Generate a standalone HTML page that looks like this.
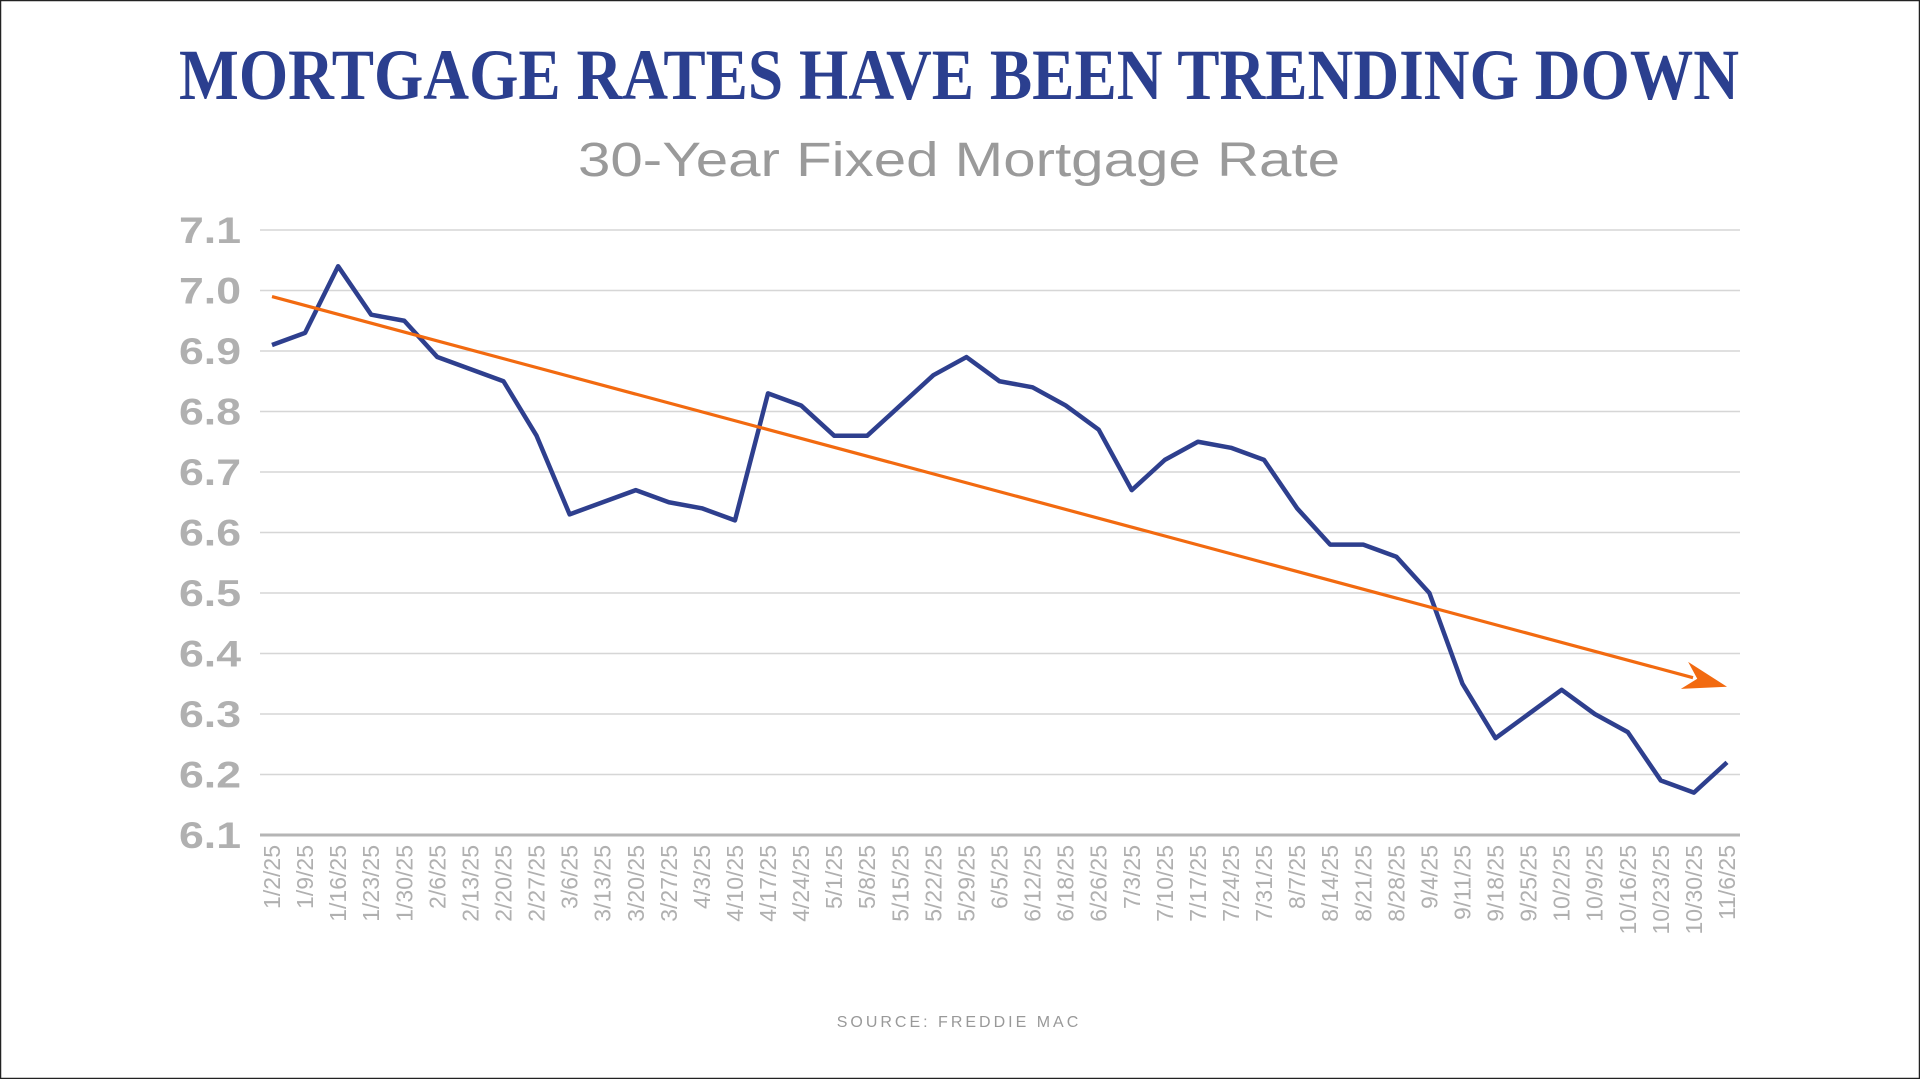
<!DOCTYPE html>
<html><head><meta charset="utf-8"><style>
html,body{margin:0;padding:0;background:#fff}
svg{display:block}
</style></head><body>
<svg id="chart" width="1920" height="1079" viewBox="0 0 1920 1079" xmlns="http://www.w3.org/2000/svg">
<rect x="0.5" y="0.5" width="1919" height="1078" fill="#fff" stroke="#222" stroke-width="1.5"/>
<text x="959" y="99" text-anchor="middle" textLength="1560" lengthAdjust="spacingAndGlyphs" font-family="Liberation Serif, serif" font-weight="bold" font-size="72" fill="#2b3f8f">MORTGAGE RATES HAVE BEEN TRENDING DOWN</text>
<text x="959" y="176" text-anchor="middle" textLength="762" lengthAdjust="spacingAndGlyphs" font-family="Liberation Sans, sans-serif" font-size="48" fill="#9a9a9a">30-Year Fixed Mortgage Rate</text>
<g id="grid"></g><g id="yticks"></g><g id="xticks"></g><g id="series"></g>
<text x="959" y="1027" text-anchor="middle" font-family="Liberation Sans, sans-serif" font-size="16" letter-spacing="3" fill="#999">SOURCE: FREDDIE MAC</text>
</svg>
<script>
const categories=["1/2/25","1/9/25","1/16/25","1/23/25","1/30/25","2/6/25","2/13/25","2/20/25","2/27/25","3/6/25","3/13/25","3/20/25","3/27/25","4/3/25","4/10/25","4/17/25","4/24/25","5/1/25","5/8/25","5/15/25","5/22/25","5/29/25","6/5/25","6/12/25","6/18/25","6/26/25","7/3/25","7/10/25","7/17/25","7/24/25","7/31/25","8/7/25","8/14/25","8/21/25","8/28/25","9/4/25","9/11/25","9/18/25","9/25/25","10/2/25","10/9/25","10/16/25","10/23/25","10/30/25","11/6/25"];
const rates=[6.91,6.93,7.04,6.96,6.95,6.89,6.87,6.85,6.76,6.63,6.65,6.67,6.65,6.64,6.62,6.83,6.81,6.76,6.76,6.81,6.86,6.89,6.85,6.84,6.81,6.77,6.67,6.72,6.75,6.74,6.72,6.64,6.58,6.58,6.56,6.50,6.35,6.26,6.30,6.34,6.30,6.27,6.19,6.17,6.22];
const yTicks=[6.1,6.2,6.3,6.4,6.5,6.6,6.7,6.8,6.9,7.0,7.1];
const yTickLabels=["6.1","6.2","6.3","6.4","6.5","6.6","6.7","6.8","6.9","7.0","7.1"];
const trendStart=6.99, trendEnd=6.345;
const NS="http://www.w3.org/2000/svg";
const x0=272,x1=1727,yTop=230,yBot=835,vMin=6.1,vMax=7.1;
const xs=i=>x0+(x1-x0)*i/(categories.length-1);
const ys=v=>yBot-(v-vMin)/(vMax-vMin)*(yBot-yTop);
function mk(tag,attrs,parent){const e=document.createElementNS(NS,tag);for(const k in attrs)e.setAttribute(k,attrs[k]);document.getElementById(parent).appendChild(e);return e;}
yTicks.forEach((v,i)=>{
  const y=ys(v);
  const g=mk('line',{x1:260,x2:1740,y1:y,y2:y,stroke:v===vMin?'#b5b5b5':'#d6d6d6','stroke-width':v===vMin?3:1.5},'grid');
  
  
  const t=mk('text',{x:241,y:y+13,'text-anchor':'end',textLength:62,lengthAdjust:'spacingAndGlyphs','font-family':'Liberation Sans, sans-serif','font-weight':'bold','font-size':37,fill:'#b0b0b0'},'yticks');
  t.textContent=yTickLabels[i];
  
  
});
categories.forEach((c,i)=>{
  const x=xs(i);
  const t=mk('text',{x:0,y:0,transform:`translate(${x+8},${845}) rotate(-90)`,'text-anchor':'end','font-family':'Liberation Sans, sans-serif','font-size':23,fill:'#b0b0b0'},'xticks');
  t.textContent=c;
  
  
});
const pts=rates.map((v,i)=>xs(i)+','+ys(v)).join(' ');
const line=mk('polyline',{points:pts,fill:'none',stroke:'#2e3f8e','stroke-width':4.5,'stroke-linejoin':'round'},'series');


const ax=xs(0),ay=ys(trendStart),bx=x1,by=ys(trendEnd);
const dx=bx-ax,dy=by-ay,len=Math.hypot(dx,dy),ux=dx/len,uy=dy/len;
const hl=44,hw=14;
const tr=mk('line',{x1:ax,y1:ay,x2:bx-ux*hl*0.8,y2:by-uy*hl*0.8,stroke:'#f26a10','stroke-width':3.2},'series');


const bx2=bx-ux*hl,by2=by-uy*hl;
const head=mk('polygon',{points:`${bx},${by} ${bx2-uy*hw},${by2+ux*hw} ${bx-ux*hl*0.7},${by-uy*hl*0.7} ${bx2+uy*hw},${by2-ux*hw}`,fill:'#f26a10'},'series');


</script>
</body></html>
